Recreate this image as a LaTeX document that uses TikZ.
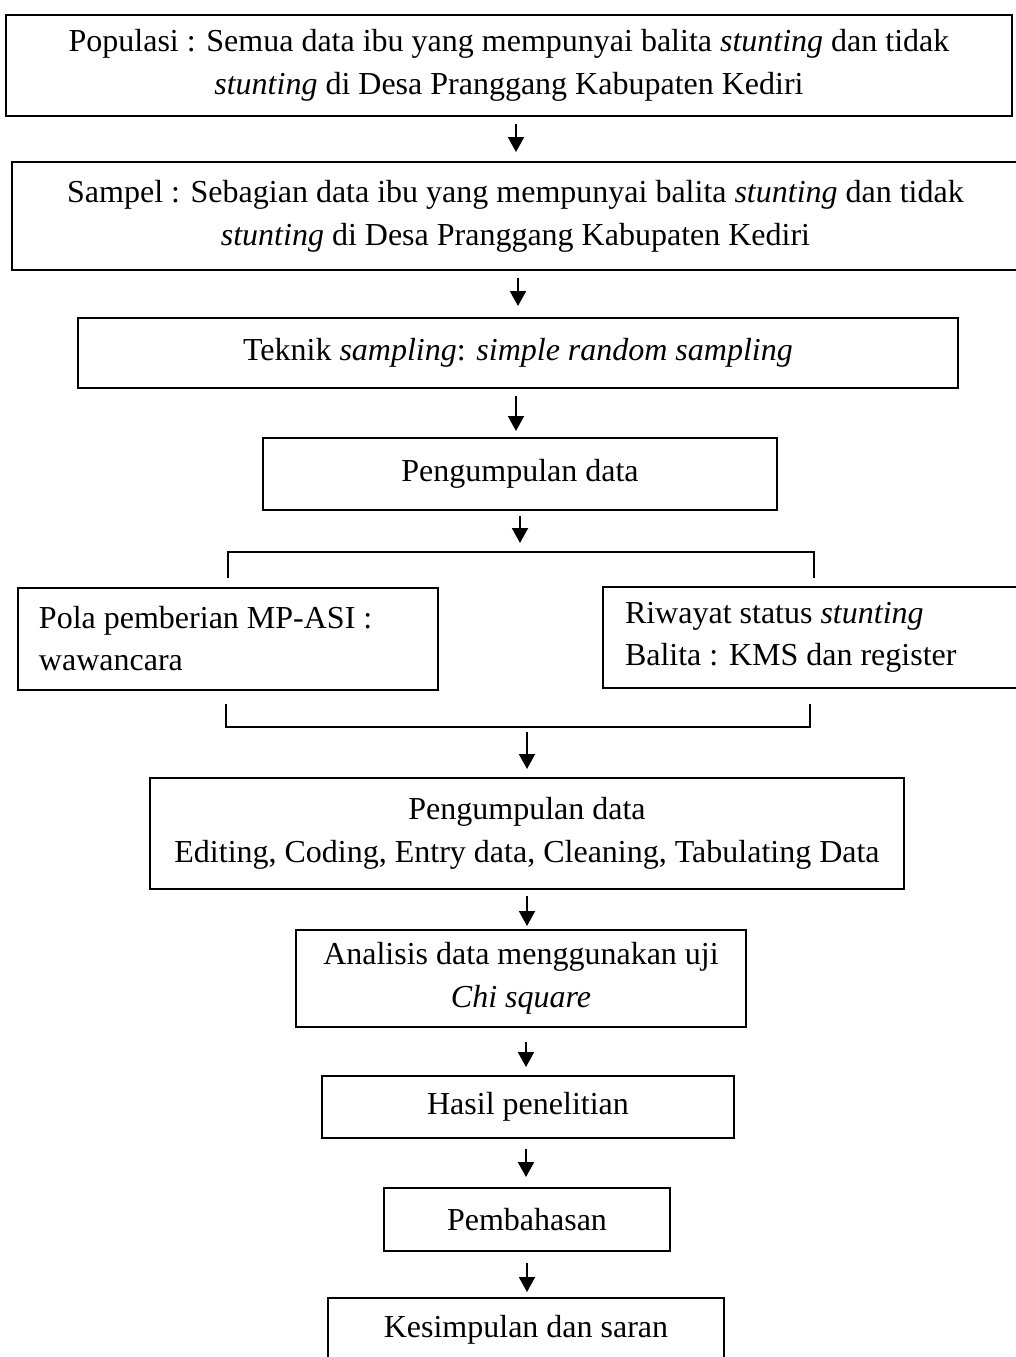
\documentclass[tikz,border=0pt]{standalone}
\usepackage{fontspec}
\setmainfont{Liberation Serif}
\usetikzlibrary{arrows.meta}

\tikzset{
    flowBox/.style={draw, line width=1pt, inner sep=0pt, align=center,
        font=\fontsize{16}{21.5}\selectfont},
    sideBox/.style={draw, line width=1pt, inner ysep=0pt, inner xsep=10.5pt,
        align=flush left, font=\fontsize{16}{21}\selectfont},
    flowArrow/.style={line width=1pt, -{Triangle[length=7.5pt,width=8pt]}},
}

\begin{document}
\begin{tikzpicture}[x=0.5pt, y=-0.5pt]
    \useasboundingbox (0,0) rectangle (1016,1357);

    % main column
    \node[flowBox, minimum width=503pt, minimum height=50.5pt] (pop) at (509,65.5)
        {Populasi : Semua data ibu yang mempunyai balita \textit{stunting} dan tidak\\
         \textit{stunting} di Desa Pranggang Kabupaten Kediri};
    \node[flowBox, minimum width=503.5pt, minimum height=54pt] (samp) at (515.5,216)
        {Sampel : Sebagian data ibu yang mempunyai balita \textit{stunting} dan tidak\\
         \textit{stunting} di Desa Pranggang Kabupaten Kediri};
    \node[flowBox, minimum width=440pt, minimum height=35pt] (tek) at (518,353)
        {Teknik \textit{sampling}: \textit{simple random sampling}};
    \node[flowBox, minimum width=257pt, minimum height=36pt] (kumpul) at (520,474)
        {Pengumpulan data};

    % two branches
    \node[sideBox, text width=189pt, minimum height=51pt] (pola) at (228,639)
        {Pola pemberian MP-ASI :\\ wawancara};
    \node[sideBox, text width=200pt, inner xsep=11pt, minimum height=50.5pt] (riwayat) at (825,637.5)
        {Riwayat status \textit{stunting}\\ Balita : KMS dan register};

    \node[flowBox, minimum width=377pt, minimum height=55.5pt] (olah) at (527,833.5)
        {Pengumpulan data\\ Editing, Coding, Entry data, Cleaning, Tabulating Data};
    \node[flowBox, minimum width=225pt, minimum height=48.5pt] (analisis) at (521,978.5)
        {Analisis data menggunakan uji\\ \textit{Chi square}};
    \node[flowBox, minimum width=206pt, minimum height=31pt] (hasil) at (528,1107)
        {Hasil penelitian};
    \node[flowBox, minimum width=143pt, minimum height=31.5pt] (bahas) at (527,1219.5)
        {Pembahasan};
    \node[flowBox, minimum width=198pt, minimum height=31.5pt] (simpul) at (526,1329.5)
        {Kesimpulan dan saran};

    % brackets
    \coordinate (topBar) at (520,552);
    \coordinate (botBar) at (527,727);
    \draw[line width=1pt] (228,578) |- (topBar) -| (814,578);
    \draw[line width=1pt] (226,704) |- (botBar) -| (810,704);

    % arrows
    \foreach \a/\b/\dx/\s/\e in {pop/samp/3.5/3.5/4.5, samp/tek/1.25/3.5/5.5,
        tek/kumpul/-1/3.5/3, olah/analisis/0/3/1.5, analisis/hasil/2.5/7/4,
        hasil/bahas/-1/5/5, bahas/simpul/0/5.5/2.5}{
        \draw[flowArrow, shorten <=\s pt, shorten >=\e pt]
            ([xshift=\dx pt]\a.south) -- ([xshift=\dx pt]\a.south |- \b.north);
    }
    \draw[flowArrow, shorten <=2.5pt, shorten >=4.5pt] (kumpul.south) -- (kumpul.south |- topBar);
    \draw[flowArrow, shorten <=2.5pt, shorten >=4pt] (botBar) -- (botBar |- olah.north);
\end{tikzpicture}
\end{document}
